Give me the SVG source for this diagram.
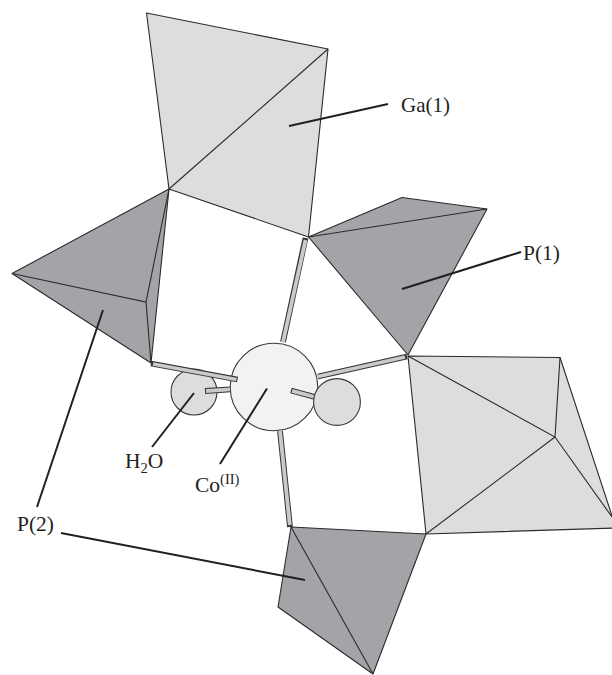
<svg xmlns="http://www.w3.org/2000/svg" width="612" height="675" viewBox="0 0 612 675">
<style>
.face{stroke:#2b2b2b;stroke-width:1.1;stroke-linejoin:round}
.ga{fill:#dcddde}
.p{fill:#a3a4a7}
.edge{fill:none;stroke:#2b2b2b;stroke-width:1.1}
.bo{stroke:#333;stroke-width:5.8;fill:none}
.bi{stroke:#c9cacc;stroke-width:3.8;fill:none}
.atom{stroke:#3a3a3a;stroke-width:1.1}
.leader{stroke:#231f20;stroke-width:2;fill:none}
text{font-family:"Liberation Serif","Times New Roman",serif;font-size:21.5px;fill:#231f20}
.sm{font-size:14.5px}
</style>
<rect width="612" height="675" fill="#fff"/>
<g id="ga1">
<polygon class="face ga" points="146.500,13 328,49 308.500,237 169,189"/>
<path class="edge" d="M169 189L328 49"/>
</g>
<g id="p2-left">
<polygon class="face p" points="12,273.500 169,189 151,363"/>
<path class="edge" d="M12 273.500L146 302L169 189M146 302L151 363"/>
</g>
<g id="p1">
<polygon class="face p" points="308.500,237 402,197.500 487,209 408,355"/>
<path class="edge" d="M308.500 237L487 209"/>
</g>
<g id="ga2">
<polygon class="face ga" points="408,356 560,357.500 616,528 426,534"/>
<path class="edge" d="M408 356L555 437L426 534M555 437L560 357.500M555 437L612 517"/>
</g>
<g id="p2-bottom">
<polygon class="face p" points="291,527 426,534 373,674 278,607"/>
<path class="edge" d="M291 527L373 674"/>
</g>
<g id="h2o-atom">
<circle class="atom" cx="194" cy="392" r="23" fill="#dcddde"/>
</g>
<g id="co-atom">
<circle class="atom" cx="274" cy="387" r="43.800" fill="#f2f2f2"/>
</g>
<g id="connectors">
<path class="bo" d="M305.500 238L283 342"/><path class="bi" d="M305.500 240L283 342"/>
<path class="bo" d="M407 356.500L318 376.500"/><path class="bi" d="M405 357L318 376.500"/>
<path class="bo" d="M280 431L290 527"/><path class="bi" d="M280 431L289.800 525"/>
<path class="bo" d="M151 363.500L237.500 379.500"/><path class="bi" d="M153 364L236.500 379.500"/>
<path class="bo" d="M205 391L230 389.300"/><path class="bi" d="M206 391L230 389.300"/>
<path class="bo" d="M291 390.500L315 397"/><path class="bi" d="M292 390.800L315 397"/>
</g>
<g id="water-atom-right">
<circle class="atom" cx="337" cy="402" r="23.400" fill="#dcddde"/>
</g>
<g id="leaders">
<path class="leader" d="M289 126L388 104"/>
<path class="leader" d="M402 289L521 252"/>
<path class="leader" d="M103 310L37 507"/>
<path class="leader" d="M61 533L305 580"/>
<path class="leader" d="M194 393L152 447"/>
<path class="leader" d="M267 388.500L220 464"/>
</g>
<g id="labels">
<text x="401" y="112" style="font-size:21px">Ga(1)</text>
<text x="523" y="260">P(1)</text>
<text x="17" y="531">P(2)</text>
<text x="125" y="468">H<tspan class="sm" dy="5">2</tspan><tspan dy="-5">O</tspan></text>
<text x="195" y="492">Co<tspan class="sm" dy="-8">(II)</tspan></text>
</g>
</svg>
